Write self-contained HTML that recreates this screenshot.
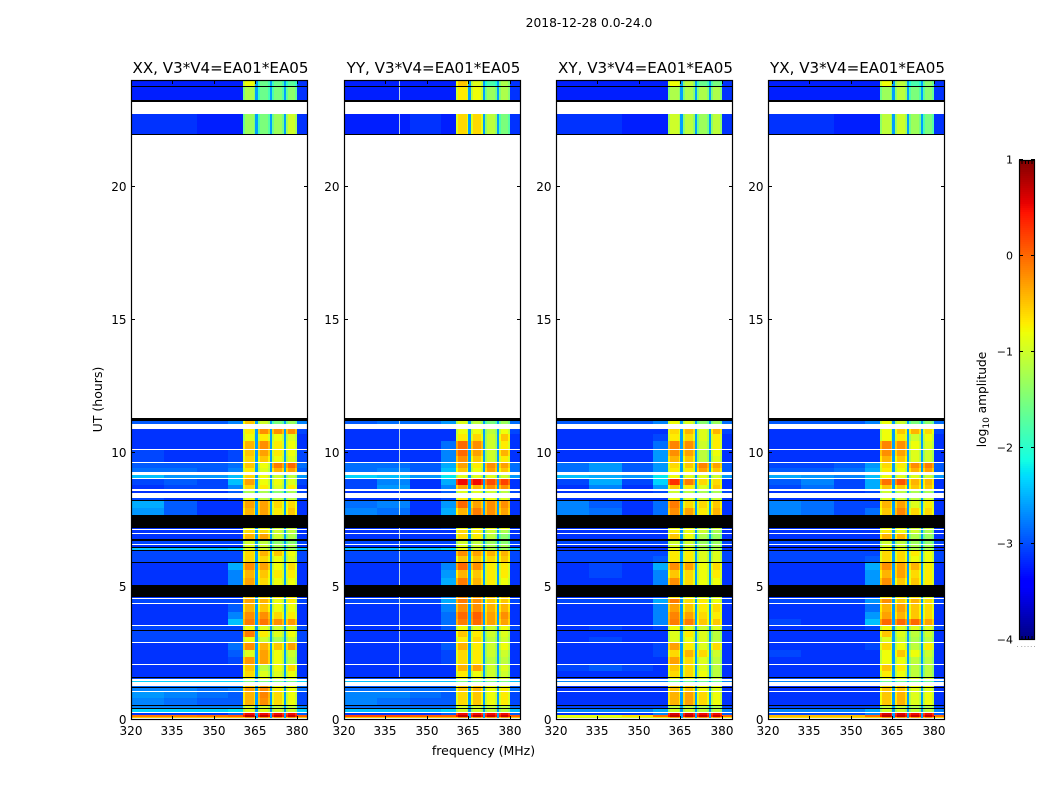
<!DOCTYPE html>
<html lang="en">
<head>
<meta charset="utf-8">
<title>2018-12-28 0.0-24.0</title>
<style>
html,body{margin:0;padding:0;background:#fff;}
#figure{display:block;width:1050px;height:800px;background:#fff;}
text{font-family:"DejaVu Sans","Liberation Sans",sans-serif;fill:#000;}
</style>
</head>
<body>
<svg id="figure" xmlns="http://www.w3.org/2000/svg" width="1050" height="800" viewBox="0 0 1050 800">
  <text x="589" y="27" font-size="12.3" text-anchor="middle">2018-12-28 0.0-24.0</text>
  <text x="483.5" y="755" font-size="12.5" text-anchor="middle">frequency (MHz)</text>
  <text x="0" y="0" font-size="12.5" text-anchor="middle" transform="translate(102 399.5) rotate(-90)">UT (hours)</text>
  <text x="0" y="0" font-size="12.2" text-anchor="middle" transform="translate(986 399.5) rotate(-90)">log<tspan font-size="9" dy="3">10</tspan><tspan dy="-3"> amplitude</tspan></text>
  <g id="panels"></g>
  <g id="colorbar"></g>
</svg>
<script>
/* ---------- chart data ---------- */
const panelTitles = ['XX, V3*V4=EA01*EA05','YY, V3*V4=EA01*EA05','XY, V3*V4=EA01*EA05','YX, V3*V4=EA01*EA05'];
const xTicks = [320,335,350,365,380];
const yTicks = [0,5,10,15,20];
const colorbarTicks = [-4,-3,-2,-1,0,1];
const spectralWindows = [[360.5,365],[365.8,370.25],[371,375.25],[375.9,380]];
const backgroundBins = [[320,332],[332,344],[344,355],[355,360.5]];
const rightBin = [380,384];
const gapValue = -2.6;
const edgeOffsets = [-0.3,-0.25];
const backgroundShift = -0.13;
const hotChannelsYY = [339.9];

/* time rows in hours (top, bottom) holding data */
const rowTops = [24,23.7375,22.725,11.2125,10.9125,10.725,10.4625,10.125,9.9,9.6375,9.45,9.1875,9.0375,8.8125,8.5875,8.325,8.2125,7.95,7.2,7.125,6.975,6.7125,6.5625,6.45,6.3375,6.15,5.8875,5.625,5.325,4.6125,4.5375,4.35,4.05,3.7875,3.525,3.3375,3.1125,2.8875,2.625,2.3625,2.0625,1.8375,1.575,1.4625,1.275,1.2,1.05,0.825,0.525,0.4125,0.2625,0.1875,0.1125];
const rowBottoms = [23.775,23.25,21.975,11.1,10.725,10.4625,10.1625,9.9,9.675,9.45,9.3,9.075,8.8125,8.6625,8.5125,8.25,7.95,7.6875,7.1625,7.0125,6.7875,6.6,6.4875,6.375,6.15,5.925,5.625,5.325,5.0625,4.575,4.3875,4.05,3.7875,3.5625,3.375,3.1125,2.925,2.625,2.3625,2.1,1.8375,1.6125,1.5375,1.425,1.2375,1.0875,0.825,0.5625,0.45,0.3,0.1875,0.1125,0.075];
/* flagged (zero amplitude) rows drawn black: top, bottom hours */
const blackRowTops = [23.775,23.25,21.975,11.325,8.25,7.6875,6.7875,6.4875,6.375,5.925,5.0625,3.375,1.6125,1.2375,0.5625,0.45];
const blackRowBottoms = [23.7375,23.19,21.9375,11.2125,8.2125,7.2,6.7125,6.45,6.3375,5.8875,4.6125,3.3375,1.575,1.2,0.525,0.4125];

/* log10 amplitude per row: 320-332, 332-344, 344-355, 355-360.5, window1..4, 380-384 */
const xxCells = [
[-3.1,-3.1,-3.1,-3.1,-0.8,-1.6,-1.6,-1.7,-3.0],
[-3.1,-3.1,-3.1,-3.1,-1.2,-1.6,-1.5,-1.4,-3.0],
[-3.0,-3.0,-3.1,-3.1,-1.3,-1.5,-1.3,-1.0,-3.0],
[-2.8,-2.8,-2.8,-2.6,-0.5,-1.0,-1.5,-1.3,-2.6],
[-3.0,-3.0,-3.0,-3.0,-0.7,-0.2,-0.2,-0.2,-2.9],
[-3.0,-3.0,-3.0,-3.0,-0.8,-0.7,-0.8,-0.9,-3.0],
[-3.0,-3.0,-3.0,-3.0,-0.4,-0.2,-0.7,-0.8,-3.0],
[-2.9,-3.0,-3.0,-2.9,-0.5,-0.3,-0.7,-0.8,-2.9],
[-2.9,-3.0,-3.0,-2.9,-0.6,-0.5,-0.8,-0.9,-2.9],
[-2.8,-2.8,-2.8,-2.7,-0.5,-0.8,-0.1,0.0,-2.7],
[-2.7,-2.7,-2.8,-2.6,-0.7,-0.9,-0.4,-0.3,-2.8],
[-2.3,-2.5,-2.5,-2.3,-0.6,-0.8,-1.0,-1.1,-2.5],
[-2.9,-2.8,-2.9,-2.3,-0.3,-0.8,-0.8,-0.9,-2.9],
[-3.0,-2.9,-2.9,-2.6,-0.6,-0.7,-0.9,-0.7,-3.0],
[-3.0,-3.0,-3.0,-2.8,-1.2,-1.2,-1.4,-1.2,-2.9],
[-2.9,-3.0,-3.0,-2.9,-0.9,-1.1,-1.1,-1.1,-2.9],
[-2.4,-2.8,-3.0,-3.0,-0.3,-0.3,-0.6,-0.6,-3.0],
[-2.5,-2.8,-3.0,-3.0,-0.4,-0.3,-0.7,-0.5,-3.0],
[-3.0,-3.0,-3.0,-3.0,-0.8,-0.8,-1.0,-1.0,-3.0],
[-3.0,-3.0,-3.0,-3.0,-0.6,-0.6,-1.0,-1.1,-3.0],
[-3.0,-3.0,-3.0,-3.0,-0.4,-0.3,-1.0,-1.2,-3.0],
[-2.9,-2.9,-2.9,-2.9,-1.0,-1.1,-1.4,-1.4,-2.9],
[-3.0,-3.0,-3.0,-3.0,-0.9,-1.0,-1.2,-1.2,-3.0],
[-2.3,-2.3,-2.3,-2.2,-0.9,-1.0,-1.3,-1.3,-2.3],
[-2.9,-2.9,-2.9,-2.9,-0.6,-0.4,-0.5,-0.8,-2.9],
[-2.9,-2.9,-2.9,-2.9,-0.6,-0.6,-0.8,-0.9,-2.9],
[-3.0,-3.0,-3.0,-2.4,-0.2,-0.3,-0.8,-0.6,-3.0],
[-3.0,-3.0,-3.0,-2.6,-0.4,-0.5,-0.7,-0.7,-3.0],
[-3.0,-3.0,-3.0,-2.6,-0.3,-0.6,-0.8,-0.8,-3.0],
[-3.0,-3.0,-3.0,-3.0,-0.5,-0.6,-0.7,-0.7,-3.0],
[-2.9,-2.9,-2.9,-2.9,-0.3,-0.4,-0.8,-0.7,-2.9],
[-3.0,-3.0,-3.0,-2.8,-0.4,-0.5,-0.8,-0.8,-3.0],
[-3.0,-3.0,-3.0,-2.6,-0.2,-0.2,-0.6,-0.7,-3.0],
[-3.0,-3.0,-3.0,-2.3,-0.1,-0.05,-0.2,-0.25,-3.0],
[-2.9,-2.9,-2.9,-2.9,-0.8,-0.9,-1.0,-0.9,-2.9],
[-2.9,-2.9,-2.9,-2.9,-0.1,-0.7,-0.9,-0.8,-2.9],
[-2.9,-2.9,-2.9,-2.9,-0.8,-1.0,-1.2,-1.0,-2.9],
[-3.0,-3.0,-3.0,-2.7,-0.2,-0.4,-0.5,-0.3,-3.0],
[-3.0,-3.0,-3.0,-2.8,-0.9,-0.3,-0.8,-1.0,-3.0],
[-3.0,-3.0,-3.0,-2.9,-0.25,-0.3,-0.8,-1.1,-3.0],
[-3.0,-3.0,-3.0,-3.0,-0.5,-1.1,-0.8,-0.6,-3.0],
[-3.0,-3.0,-3.0,-3.0,-0.6,-0.9,-0.9,-0.8,-3.0],
[-2.9,-2.9,-2.9,-2.9,-0.8,-0.8,-0.9,-0.9,-2.9],
[-2.2,-2.2,-2.2,-2.2,-1.5,-1.5,-1.5,-1.5,-2.2],
[-2.7,-2.7,-2.7,-2.7,-0.5,-0.3,-0.8,-0.8,-2.7],
[-2.6,-2.6,-2.7,-2.6,-0.3,-0.2,-0.7,-0.8,-2.7],
[-2.5,-2.6,-2.7,-2.8,-0.4,-0.15,-0.6,-0.8,-2.9],
[-2.6,-2.7,-2.8,-2.8,-0.4,-0.2,-0.6,-0.8,-2.9],
[-2.6,-2.6,-2.6,-2.6,-1.0,-1.0,-1.1,-1.1,-2.6],
[-2.2,-2.2,-2.2,-2.1,-0.9,-0.9,-1.0,-1.0,-2.2],
[-3.0,-3.0,-3.0,-2.8,0.5,0.5,0.5,0.5,-2.8],
[0.05,0.05,0.1,0.2,0.75,0.75,0.7,0.7,0.2],
[-0.4,-0.4,-0.4,-0.4,-0.3,-0.3,-0.3,-0.3,-0.4]
];
const yyCells = [
[-3.1,-3.1,-3.1,-3.1,-0.5,-0.9,-1.8,-1.2,-3.0],
[-3.1,-3.1,-3.1,-3.1,-0.7,-0.8,-1.3,-1.2,-3.0],
[-3.1,-3.1,-3.0,-3.1,-0.6,-0.6,-1.1,-1.5,-3.0],
[-2.8,-2.7,-2.7,-2.5,-0.9,-1.1,-1.5,-1.3,-2.7],
[-3.0,-3.0,-3.0,-3.0,-0.8,-0.8,-1.1,-0.8,-2.9],
[-3.0,-3.0,-3.0,-3.0,-0.7,-0.6,-1.0,-0.5,-3.0],
[-3.0,-3.0,-3.0,-2.7,0.0,-0.2,-1.0,-0.7,-3.0],
[-3.0,-3.0,-3.0,-2.6,0.0,-0.3,-1.0,-0.4,-3.0],
[-3.0,-3.0,-3.0,-2.6,-0.2,-0.5,-1.0,-0.7,-3.0],
[-2.7,-2.7,-2.8,-2.4,-0.3,-0.7,-0.2,-0.3,-2.7],
[-2.7,-2.6,-2.8,-2.3,-0.5,-0.8,-0.3,-0.5,-2.7],
[-2.2,-2.3,-2.5,-2.1,-0.9,-0.9,-0.9,-1.0,-2.5],
[-2.9,-2.6,-3.0,-2.4,0.5,0.5,0.15,0.2,-3.0],
[-2.9,-2.5,-3.0,-2.6,-0.3,-0.4,-0.2,-0.2,-3.0],
[-3.0,-3.0,-3.0,-2.8,-0.9,-0.9,-1.0,-1.1,-2.9],
[-3.0,-3.0,-3.0,-2.9,-0.7,-0.8,-0.8,-0.9,-3.0],
[-2.7,-2.6,-3.0,-2.5,0.0,-0.3,-0.2,-0.2,-3.0],
[-2.6,-2.7,-3.0,-2.4,-0.4,-0.1,-0.2,-0.3,-3.0],
[-3.0,-3.0,-3.0,-2.9,-0.8,-0.8,-0.8,-0.8,-3.0],
[-3.0,-3.0,-3.0,-3.0,-0.6,-0.7,-1.0,-1.2,-3.0],
[-3.0,-3.0,-3.0,-3.0,-0.6,-0.7,-1.1,-1.4,-3.0],
[-2.9,-2.9,-2.9,-2.9,-1.0,-1.1,-1.3,-1.4,-2.9],
[-3.0,-3.0,-3.0,-3.0,-0.9,-1.0,-1.2,-1.2,-3.0],
[-2.3,-2.3,-2.3,-2.2,-0.8,-1.0,-1.2,-1.3,-2.3],
[-2.9,-2.9,-2.9,-2.9,-0.2,-0.3,-0.4,-0.4,-2.9],
[-2.9,-2.9,-2.9,-2.9,-0.5,-0.5,-0.6,-0.5,-2.9],
[-3.0,-3.0,-3.0,-2.6,0.0,-0.2,-0.7,-0.7,-3.0],
[-3.0,-3.0,-3.0,-2.5,-0.4,-0.5,-0.7,-0.7,-3.0],
[-3.0,-3.0,-3.0,-2.4,-0.1,-0.4,-0.7,-0.8,-3.0],
[-3.0,-3.0,-3.0,-2.6,-0.2,-0.3,-0.5,-0.5,-3.0],
[-2.9,-2.9,-2.9,-2.4,-0.1,-0.2,-0.5,-0.5,-2.9],
[-3.0,-3.0,-3.0,-2.6,-0.2,-0.2,-0.4,-0.4,-3.0],
[-3.0,-3.0,-3.0,-2.7,0.0,0.05,-0.3,-0.2,-3.0],
[-3.0,-3.0,-3.0,-2.7,-0.1,0.0,-0.3,-0.3,-3.0],
[-3.0,-3.0,-3.0,-2.8,-0.8,-0.9,-1.0,-0.8,-2.9],
[-3.0,-3.0,-3.0,-3.0,-0.5,-0.7,-1.0,-0.9,-3.0],
[-3.0,-3.0,-3.0,-3.0,-0.7,-0.6,-1.1,-1.0,-3.0],
[-3.0,-3.0,-3.0,-2.8,-0.4,-0.7,-1.0,-0.8,-3.0],
[-3.0,-3.0,-3.0,-2.9,-0.6,-0.7,-1.0,-1.0,-3.0],
[-3.0,-3.0,-3.0,-2.9,-0.6,-0.7,-1.1,-1.1,-3.0],
[-3.0,-3.0,-3.0,-3.0,-0.4,-0.3,-1.0,-0.9,-3.0],
[-3.0,-3.0,-3.0,-3.0,-0.7,-0.8,-1.0,-1.0,-3.0],
[-2.9,-2.9,-2.9,-2.9,-0.8,-0.8,-0.9,-0.9,-2.9],
[-2.3,-2.3,-2.3,-2.3,-1.5,-1.5,-1.5,-1.5,-2.3],
[-2.8,-2.8,-2.8,-2.8,-0.5,-0.5,-0.8,-0.8,-2.8],
[-2.7,-2.7,-2.7,-2.7,-0.5,-0.4,-0.8,-0.7,-2.7],
[-2.6,-2.6,-2.7,-2.8,-0.6,-0.5,-0.8,-0.7,-2.9],
[-2.6,-2.7,-2.8,-2.8,-0.6,-0.5,-0.8,-0.7,-2.9],
[-2.7,-2.7,-2.7,-2.7,-1.0,-1.0,-1.1,-1.1,-2.7],
[-2.3,-2.3,-2.3,-2.2,-1.0,-1.0,-1.1,-1.1,-2.3],
[-3.0,-3.0,-3.0,-2.8,0.5,0.5,0.5,0.5,-2.8],
[0.3,0.3,0.2,0.2,0.75,0.75,0.7,0.7,0.2],
[-0.4,-0.4,-0.4,-0.4,-0.3,-0.3,-0.3,-0.3,-0.4]
];
const xyCells = [
[-3.1,-3.1,-3.1,-3.1,-0.8,-1.1,-1.6,-1.5,-3.0],
[-3.1,-3.1,-3.1,-3.1,-1.2,-1.2,-1.2,-1.2,-3.0],
[-3.0,-3.0,-3.1,-3.1,-1.0,-1.1,-1.3,-1.1,-3.0],
[-2.8,-2.8,-2.8,-2.6,-0.8,-0.9,-1.4,-1.3,-2.7],
[-3.0,-3.0,-3.0,-3.0,-0.6,-0.4,-0.9,-0.4,-2.9],
[-3.0,-3.0,-3.0,-2.9,-0.7,-0.6,-0.9,-0.7,-3.0],
[-3.0,-3.0,-3.0,-2.7,-0.15,-0.2,-1.0,-0.7,-3.0],
[-3.0,-3.0,-3.0,-2.5,-0.2,-0.3,-1.1,-0.8,-3.0],
[-3.0,-3.0,-3.0,-2.5,-0.4,-0.5,-1.1,-0.9,-3.0],
[-2.7,-2.5,-2.8,-2.5,-0.6,-0.5,-0.15,-0.3,-2.8],
[-2.7,-2.5,-2.8,-2.5,-0.7,-0.7,-0.3,-0.5,-2.8],
[-2.3,-2.4,-2.5,-2.1,-0.8,-0.9,-0.9,-1.0,-2.5],
[-2.9,-2.4,-2.9,-2.2,0.3,-0.1,-0.6,-0.6,-3.0],
[-3.0,-2.6,-3.0,-2.5,-0.5,-0.7,-0.9,-0.5,-3.0],
[-3.0,-3.0,-3.0,-2.9,-1.0,-1.1,-1.2,-1.2,-2.9],
[-3.0,-3.0,-3.0,-3.0,-0.8,-0.9,-1.0,-1.0,-3.0],
[-2.6,-2.8,-3.0,-2.7,-0.1,-0.6,-0.6,-0.5,-3.0],
[-2.6,-2.7,-3.0,-2.7,-0.2,-0.3,-0.7,-0.4,-3.0],
[-3.0,-3.0,-3.0,-3.0,-0.8,-0.8,-1.0,-1.0,-3.0],
[-3.0,-3.0,-3.0,-3.0,-0.7,-0.8,-1.0,-1.2,-3.0],
[-3.0,-3.0,-3.0,-3.0,-0.5,-0.8,-1.2,-1.3,-3.0],
[-2.9,-2.9,-2.9,-2.9,-1.0,-1.0,-1.3,-1.3,-2.9],
[-3.0,-3.0,-3.0,-3.0,-0.9,-1.0,-1.2,-1.2,-3.0],
[-3.0,-3.0,-3.0,-3.0,-0.8,-0.9,-1.2,-1.2,-3.0],
[-2.9,-2.9,-2.9,-2.9,-0.7,-0.7,-0.9,-0.9,-2.9],
[-2.9,-2.9,-2.9,-2.8,-0.7,-0.7,-0.9,-0.9,-2.9],
[-3.0,-2.9,-3.0,-2.4,-0.2,-0.3,-0.8,-0.6,-3.0],
[-3.0,-2.9,-3.0,-2.6,-0.5,-0.6,-0.8,-0.7,-3.0],
[-3.0,-3.0,-3.0,-2.6,-0.2,-0.6,-0.8,-0.8,-3.0],
[-3.0,-3.0,-3.0,-2.9,-0.7,-0.8,-0.9,-0.9,-3.0],
[-2.9,-2.9,-2.9,-2.4,-0.1,-0.6,-0.7,-0.8,-2.9],
[-3.0,-3.0,-3.0,-2.6,-0.3,-0.5,-0.7,-0.6,-3.0],
[-3.0,-3.0,-3.0,-2.6,-0.15,-0.3,-0.6,-0.7,-3.0],
[-3.0,-3.0,-3.0,-2.6,-0.1,-0.1,-0.5,-0.5,-3.0],
[-3.0,-2.9,-3.0,-2.9,-0.8,-0.9,-1.0,-0.9,-2.9],
[-3.0,-3.0,-3.0,-3.0,-0.9,-0.7,-0.9,-1.1,-3.0],
[-3.0,-2.9,-3.0,-3.0,-0.9,-0.8,-0.9,-1.1,-3.0],
[-3.0,-3.0,-3.0,-2.9,-0.3,-0.7,-0.9,-0.6,-3.0],
[-3.0,-3.0,-3.0,-2.9,-0.6,-0.4,-0.6,-1.0,-3.0],
[-3.0,-3.0,-3.0,-3.0,-0.3,-0.6,-0.9,-1.1,-3.0],
[-2.9,-2.8,-2.9,-3.0,-0.5,-0.6,-0.9,-1.1,-3.0],
[-3.0,-3.0,-3.0,-3.0,-0.6,-0.6,-0.8,-1.1,-3.0],
[-3.0,-3.0,-3.0,-3.0,-0.8,-0.8,-0.9,-1.0,-3.0],
[-2.6,-2.6,-2.6,-2.6,-1.6,-1.6,-1.6,-1.6,-2.6],
[-3.0,-3.0,-3.0,-3.0,-0.5,-0.5,-0.8,-0.8,-3.0],
[-3.0,-3.0,-3.0,-3.0,-0.5,-0.5,-0.8,-0.9,-3.0],
[-3.0,-3.0,-3.0,-3.0,-0.4,-0.3,-0.6,-0.8,-3.0],
[-3.0,-3.0,-3.0,-3.0,-0.4,-0.3,-0.6,-0.8,-3.0],
[-2.9,-2.9,-2.9,-2.9,-1.1,-1.1,-1.2,-1.2,-2.9],
[-2.6,-2.6,-2.6,-2.4,-1.0,-1.0,-1.1,-1.1,-2.6],
[-3.0,-3.0,-3.0,-2.6,0.6,0.6,0.5,0.5,-2.8],
[-0.7,-0.7,-0.5,0.1,0.75,0.75,0.7,0.7,0.1],
[-0.8,-0.8,-0.8,-0.6,-0.3,-0.3,-0.3,-0.3,-0.6]
];
const yxCells = [
[-3.1,-3.1,-3.1,-3.1,-0.8,-1.1,-1.8,-1.4,-3.0],
[-3.1,-3.1,-3.1,-3.1,-1.3,-1.1,-1.5,-1.4,-3.0],
[-3.0,-3.0,-3.1,-3.1,-1.1,-1.0,-1.3,-1.5,-3.0],
[-2.8,-2.8,-2.8,-2.6,-0.8,-1.0,-1.5,-1.4,-2.7],
[-3.0,-3.0,-3.0,-3.0,-0.8,-0.5,-0.4,-0.6,-2.9],
[-3.0,-3.0,-3.0,-3.0,-0.8,-0.7,-1.0,-0.8,-3.0],
[-3.0,-3.0,-3.0,-3.0,-0.15,-0.2,-0.8,-0.9,-3.0],
[-3.0,-3.0,-3.0,-3.0,-0.2,-0.3,-0.9,-1.0,-3.0],
[-3.0,-3.0,-3.0,-3.0,-0.4,-0.5,-0.9,-1.0,-3.0],
[-2.9,-2.9,-2.8,-2.5,-0.6,-0.7,-0.2,-0.1,-2.8],
[-2.8,-2.8,-2.7,-2.4,-0.7,-0.8,-0.4,-0.3,-2.8],
[-2.4,-2.5,-2.6,-2.3,-0.8,-0.9,-0.9,-1.0,-2.5],
[-2.8,-2.6,-2.9,-2.4,-0.05,0.1,-0.4,-0.4,-3.0],
[-2.9,-2.7,-2.9,-2.4,-0.5,-0.5,-0.5,-0.5,-3.0],
[-3.0,-3.0,-3.0,-2.9,-1.0,-1.1,-1.2,-1.2,-2.9],
[-3.0,-3.0,-3.0,-3.0,-0.9,-1.0,-1.1,-1.0,-3.0],
[-2.6,-2.7,-2.9,-2.9,-0.4,-0.3,-0.9,-0.7,-3.0],
[-2.6,-2.7,-2.9,-2.7,-0.5,-0.15,-0.6,-0.6,-3.0],
[-3.0,-3.0,-3.0,-3.0,-0.8,-0.8,-1.0,-1.0,-3.0],
[-3.0,-3.0,-3.0,-3.0,-0.7,-0.8,-1.0,-1.2,-3.0],
[-3.0,-3.0,-3.0,-3.0,-0.4,-0.4,-1.2,-1.3,-3.0],
[-2.9,-2.9,-2.9,-2.9,-1.0,-1.1,-1.3,-1.4,-2.9],
[-3.0,-3.0,-3.0,-3.0,-0.9,-1.0,-1.2,-1.2,-3.0],
[-3.0,-3.0,-3.0,-3.0,-0.8,-0.9,-1.2,-1.2,-3.0],
[-2.9,-2.9,-2.9,-2.9,-0.6,-0.6,-0.7,-0.8,-2.9],
[-2.9,-2.9,-2.9,-2.8,-0.6,-0.6,-0.8,-0.8,-2.9],
[-3.0,-3.0,-3.0,-2.4,-0.2,-0.3,-0.4,-0.7,-3.0],
[-3.0,-3.0,-3.0,-2.5,-0.4,-0.3,-0.6,-0.7,-3.0],
[-3.0,-3.0,-3.0,-2.5,-0.2,-0.5,-0.5,-0.7,-3.0],
[-3.0,-3.0,-3.0,-2.9,-0.7,-0.7,-0.7,-0.9,-3.0],
[-2.9,-2.9,-2.9,-2.5,-0.2,-0.5,-0.4,-0.6,-2.9],
[-3.0,-3.0,-3.0,-2.7,-0.4,-0.3,-0.5,-0.6,-3.0],
[-3.0,-3.0,-3.0,-2.5,-0.3,-0.4,-0.5,-0.6,-3.0],
[-2.9,-3.0,-3.0,-2.3,0.0,0.0,0.0,-0.3,-3.0],
[-3.0,-3.0,-3.0,-2.9,-0.8,-0.9,-0.9,-0.9,-2.9],
[-3.0,-3.0,-3.0,-3.0,-0.5,-0.9,-1.1,-1.0,-3.0],
[-3.0,-3.0,-3.0,-3.0,-0.9,-1.0,-1.2,-1.1,-3.0],
[-3.0,-3.0,-3.0,-2.9,-0.6,-0.8,-1.1,-0.7,-3.0],
[-2.9,-3.0,-3.0,-3.0,-0.8,-0.5,-0.8,-1.0,-3.0],
[-3.0,-3.0,-3.0,-3.0,-0.8,-0.8,-1.1,-1.1,-3.0],
[-3.0,-3.0,-3.0,-3.0,-0.5,-0.7,-1.1,-1.1,-3.0],
[-3.0,-3.0,-3.0,-3.0,-0.7,-0.8,-1.1,-1.1,-3.0],
[-2.9,-2.9,-2.9,-2.9,-0.8,-0.8,-0.9,-0.9,-2.9],
[-2.6,-2.6,-2.6,-2.6,-1.6,-1.6,-1.6,-1.6,-2.6],
[-3.0,-3.0,-3.0,-3.0,-0.6,-0.5,-0.8,-0.8,-3.0],
[-3.0,-3.0,-3.0,-3.0,-0.5,-0.5,-0.9,-0.9,-3.0],
[-3.0,-3.0,-3.0,-3.0,-0.5,-0.4,-0.9,-0.8,-3.0],
[-3.0,-3.0,-3.0,-3.0,-0.5,-0.4,-0.9,-0.8,-3.0],
[-2.9,-2.9,-2.9,-2.9,-1.1,-1.1,-1.2,-1.2,-2.9],
[-2.6,-2.6,-2.6,-2.4,-1.0,-1.0,-1.1,-1.1,-2.6],
[-2.9,-2.9,-2.9,-2.6,0.6,0.6,0.5,0.5,-2.8],
[-0.3,-0.3,-0.3,0.1,0.75,0.75,0.7,0.7,0.1],
[-0.5,-0.5,-0.5,-0.5,-0.3,-0.3,-0.3,-0.3,-0.5]
];
const panelCells = [xxCells,yyCells,xyCells,yxCells];

/* ---------- geometry and scales ---------- */
const SVGNS = 'http://www.w3.org/2000/svg';
const panelLefts = [131,344,556,768];
const panelWidth = 177;
const plotTop = 80;
const plotBottom = 720;
const freqMin = 320;
const freqMax = 384;
const timeMax = 24;
const cbLeft = 1019;
const cbRight = 1035;
const cbTop = 160;
const cbBottom = 640;
const cbMin = -4;
const cbMax = 1;

function xScale(left, f){ return left + (f - freqMin) * panelWidth / (freqMax - freqMin); }
function yScale(t){ return plotBottom - t * (plotBottom - plotTop) / timeMax; }
function cbScale(v){ return cbBottom - (v - cbMin) * (cbBottom - cbTop) / (cbMax - cbMin); }

function lerpTable(n, xs, ys){
  for (let i = 1; i < xs.length; i++) {
    if (n <= xs[i]) return ys[i-1] + (ys[i]-ys[i-1]) * (n-xs[i-1]) / (xs[i]-xs[i-1]);
  }
  return ys[ys.length-1];
}
function jet(v){
  const n = Math.max(0, Math.min(1, (v - cbMin) / (cbMax - cbMin)));
  const r = lerpTable(n, [0,0.35,0.66,0.89,1], [0,0,1,1,0.5]);
  const g = lerpTable(n, [0,0.125,0.375,0.64,0.91,1], [0,0,1,1,0,0]);
  const b = lerpTable(n, [0,0.11,0.34,0.65,1], [0.5,1,1,0,0]);
  return 'rgb(' + Math.round(r*255) + ',' + Math.round(g*255) + ',' + Math.round(b*255) + ')';
}
function make(parent, tag, name, attrs){
  const el = document.createElementNS(SVGNS, tag);
  
  
  for (const k in attrs) el.setAttribute(k, attrs[k]);
  parent.appendChild(el);
  return el;
}
function band(parent, name, x0, x1, y0, y1, fill){
  const rx = Math.round(x0), ry = Math.round(y0);
  return make(parent, 'rect', name, {x: rx, y: ry, width: Math.max(1, Math.round(x1)-rx), height: Math.max(1, Math.round(y1)-ry), fill: fill});
}

/* column layout from the frequency bins (MHz) */
const columns = [];
backgroundBins.forEach(function(b, i){ columns.push({f0:b[0], f1:b[1], src:i, off:backgroundShift}); });
spectralWindows.forEach(function(w, i){
  const edge = 0.7;
  columns.push({f0:w[0], f1:w[0]+edge, src:4+i, off:edgeOffsets[0]});
  columns.push({f0:w[0]+edge, f1:w[1]-edge, src:4+i, off:0});
  columns.push({f0:w[1]-edge, f1:w[1], src:4+i, off:edgeOffsets[1]});
  if (i < spectralWindows.length-1) columns.push({f0:w[1], f1:spectralWindows[i+1][0], src:-1, off:0});
});
columns.push({f0:rightBin[0], f1:rightBin[1], src:8, off:backgroundShift});

/* ---------- panels ---------- */
const panelsRoot = document.getElementById('panels');
panelCells.forEach(function(cells, p){
  const left = panelLefts[p];
  const right = left + panelWidth;
  const keys = ['xx','yy','xy','yx'];
  const g = make(panelsRoot, 'g', 'panel-' + keys[p], {});
  make(g, 'rect', 'plot-area-' + keys[p], {x:left, y:plotTop, width:panelWidth, height:plotBottom-plotTop, fill:'#fff'});
  const heat = make(g, 'g', 'heatmap-' + keys[p], {'shape-rendering':'crispEdges'});
  cells.forEach(function(row, r){
    columns.forEach(function(col){
      const v = col.src < 0 ? gapValue : row[col.src] + col.off;
      band(heat, 'heatmap-cell', xScale(left,col.f0), xScale(left,col.f1), yScale(rowTops[r]), yScale(rowBottoms[r]), jet(v));
    });
  });
  if (p === 1) {
    hotChannelsYY.forEach(function(f){
      rowTops.forEach(function(t, r){
        if (t > 1.6) {
          const hot = band(heat, 'bright-channel', xScale(left,f), xScale(left,f)+1, yScale(t), yScale(rowBottoms[r]), '#e8fbd8');
          hot.setAttribute('opacity', '0.8');
        }
      });
    });
  }
  blackRowTops.forEach(function(t, r){
    band(heat, 'flagged-row', left, right, yScale(t), yScale(blackRowBottoms[r]), '#000');
  });

  /* ticks */
  const ticks = make(g, 'g', 'ticks-' + keys[p], {stroke:'#000', 'stroke-width':1, 'shape-rendering':'crispEdges'});
  xTicks.forEach(function(f){
    const x = Math.round(xScale(left,f)) + 0.5;
    make(ticks, 'line', 'x-tick', {x1:x, x2:x, y1:plotBottom, y2:plotBottom-4});
    make(ticks, 'line', 'x-tick', {x1:x, x2:x, y1:plotTop, y2:plotTop+4});
    const lab = make(g, 'text', 'x-tick-label', {x:x-0.5, y:735, 'font-size':12, 'text-anchor':'middle'});
    lab.textContent = String(f);
  });
  yTicks.forEach(function(t){
    const y = Math.round(yScale(t)) - 0.5;
    make(ticks, 'line', 'y-tick', {x1:left, x2:left+4, y1:y, y2:y});
    make(ticks, 'line', 'y-tick', {x1:right-4, x2:right, y1:y, y2:y});
    const lab = make(g, 'text', 'y-tick-label', {x:left-4.5, y:y+4.5, 'font-size':12, 'text-anchor':'end'});
    lab.textContent = String(t);
  });
  make(g, 'rect', 'plot-frame-' + keys[p], {x:left+0.5, y:plotTop+0.5, width:panelWidth-1, height:plotBottom-plotTop-1, fill:'none', stroke:'#000', 'stroke-width':1.2});
  const title = make(g, 'text', 'panel-title-' + keys[p], {x:left+panelWidth/2+1, y:73, 'font-size':15.1, 'text-anchor':'middle'});
  title.textContent = panelTitles[p];
});

/* ---------- colorbar ---------- */
const cbRoot = document.getElementById('colorbar');
const cbRamp = make(cbRoot, 'g', 'colorbar-ramp', {'shape-rendering':'crispEdges'});
for (let y = cbTop; y < cbBottom; y += 2) {
  const v = cbMax - (y + 1 - cbTop) * (cbMax - cbMin) / (cbBottom - cbTop);
  band(cbRamp, 'colorbar-step', cbLeft, cbRight, y, y + 2, jet(v));
}
const cbTickGroup = make(cbRoot, 'g', 'colorbar-ticks', {stroke:'#000', 'stroke-width':1, 'shape-rendering':'crispEdges'});
colorbarTicks.forEach(function(v){
  const y = Math.round(cbScale(v)) - 0.5;
  make(cbTickGroup, 'line', 'colorbar-tick', {x1:cbLeft, x2:cbLeft+4, y1:y, y2:y});
  make(cbTickGroup, 'line', 'colorbar-tick', {x1:cbRight-4, x2:cbRight, y1:y, y2:y});
  const lab = make(cbRoot, 'text', 'colorbar-tick-label', {x:cbLeft-6, y:cbScale(v)+3.5, 'font-size':11, 'text-anchor':'end'});
  lab.textContent = v < 0 ? '\u2212' + Math.abs(v) : String(v);
});
for (let i = 1; i < 5; i++) {
  const x = cbLeft + i * (cbRight - cbLeft) / 5;
  make(cbTickGroup, 'line', 'colorbar-edge-tick', {x1:x, x2:x, y1:cbTop, y2:cbTop+4});
  make(cbTickGroup, 'line', 'colorbar-edge-tick', {x1:x, x2:x, y1:cbBottom-4, y2:cbBottom});
  make(cbRoot, 'rect', 'colorbar-edge-dot', {x:x-1, y:646, width:1, height:1, fill:'#aaa'});
}
make(cbRoot, 'rect', 'colorbar-edge-dot', {x:cbLeft-2, y:646, width:1, height:1, fill:'#aaa'});
make(cbRoot, 'rect', 'colorbar-edge-dot', {x:cbRight-1, y:646, width:1, height:1, fill:'#aaa'});
make(cbRoot, 'rect', 'colorbar-frame', {x:cbLeft+0.5, y:cbTop+0.5, width:cbRight-cbLeft-1, height:cbBottom-cbTop-1, fill:'none', stroke:'#000', 'stroke-width':1.2});
</script>
</body>
</html>
